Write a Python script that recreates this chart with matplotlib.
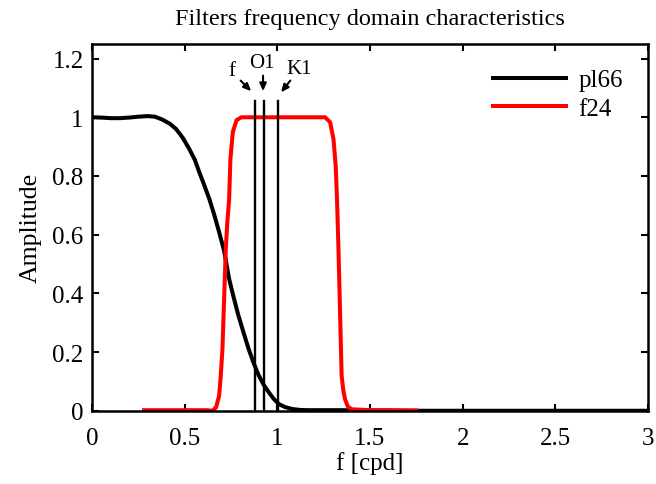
import matplotlib
matplotlib.use("Agg")
import matplotlib.pyplot as plt

plt.rcParams['font.family'] = ['Liberation Serif', 'DejaVu Serif']
plt.rcParams['mathtext.fontset'] = 'stix'

# pl66 low-pass response
pl66_x = [0.0, 0.05, 0.10, 0.15, 0.20, 0.25, 0.30, 0.34, 0.38, 0.42, 0.454, 0.49, 0.525,
          0.555, 0.579, 0.605, 0.633, 0.66, 0.686, 0.713, 0.74, 0.765, 0.79, 0.818, 0.845,
          0.872, 0.90, 0.927, 0.954, 0.98, 1.008, 1.04, 1.08, 1.12, 1.16, 1.25, 1.35, 1.5,
          1.7, 2.0, 2.5, 3.0]
pl66_y = [1.0, 0.999, 0.997, 0.997, 0.999, 1.002, 1.004, 1.002, 0.992, 0.978, 0.96, 0.93, 0.892,
          0.855, 0.813, 0.77, 0.722, 0.667, 0.609, 0.545, 0.449, 0.385, 0.325, 0.266, 0.211,
          0.163, 0.12, 0.088, 0.063, 0.041, 0.023, 0.013, 0.006, 0.003, 0.002, 0.002, 0.002, 0.001,
          0.0, 0.0, 0.0, 0.0]

# f24 band-pass response
f24_x = [0.27, 0.40, 0.55, 0.62, 0.65, 0.67, 0.686, 0.695, 0.704, 0.713, 0.722, 0.73, 0.74,
         0.747, 0.76, 0.78, 0.806, 0.9, 1.0, 1.1, 1.2, 1.258, 1.285, 1.303, 1.315, 1.322,
         1.33, 1.339, 1.347, 1.356, 1.365, 1.38, 1.40, 1.5, 1.6, 1.76]
f24_y = [0.002, 0.002, 0.002, 0.002, 0.0, 0.012, 0.051, 0.12, 0.211, 0.381, 0.551, 0.64, 0.72,
         0.858, 0.95, 0.99, 1.0, 1.0, 1.0, 1.0, 1.0, 1.0, 0.983, 0.926, 0.835, 0.722,
         0.551, 0.324, 0.12, 0.07, 0.04, 0.015, 0.005, 0.002, 0.002, 0.001]

# Tidal constituent frequencies [cpd]
const_names = ['f', 'O1', 'K1']
const_freq = [0.8781, 0.9295, 1.0027]

fig = plt.figure(figsize=(6.56, 4.85), dpi=100)
ax = fig.add_axes([0.1402, 0.151, 0.8476, 0.7564])

ax.plot(pl66_x, pl66_y, color='black', lw=2.9, label='pl66', solid_capstyle='butt')
ax.plot(f24_x, f24_y, color='red', lw=2.9, label='f24', solid_capstyle='butt')

for fr in const_freq:
    ax.plot([fr, fr], [0, 1.057], color='black', lw=1.7)

label_pos = [(0.757, 1.159), (0.918, 1.187), (1.115, 1.165)]
arrow_tail = [(0.802, 1.125), (0.923, 1.142), (1.070, 1.125)]
arrow_head = [(0.859, 1.089), (0.923, 1.089), (1.020, 1.085)]
for name, lp, t, h in zip(const_names, label_pos, arrow_tail, arrow_head):
    ax.text(lp[0], lp[1], name, fontsize=15, ha='center', va='center')
    ax.annotate('', xy=h, xytext=t,
                arrowprops=dict(arrowstyle='-|>,head_length=0.45,head_width=0.2',
                                color='black', lw=1.5, shrinkA=0, shrinkB=0))

ax.set_xlim(0, 3)
ax.set_ylim(0, 1.25)
ax.set_xticks([0, 0.5, 1, 1.5, 2, 2.5, 3])
ax.set_xticklabels(['0', '0.5', '1', '1.5', '2', '2.5', '3'])
ax.set_yticks([0, 0.2, 0.4, 0.6, 0.8, 1.0, 1.2])
ax.set_yticklabels(['0', '0.2', '0.4', '0.6', '0.8', '1', '1.2'])
ax.tick_params(direction='in', top=True, right=True, length=5, width=1.5,
               labelsize=18)
ax.tick_params(axis='x', pad=12)
ax.tick_params(axis='y', pad=6)
for s in ax.spines.values():
    s.set_linewidth(1.8)

ax.set_xlabel('f [cpd]', fontsize=18, labelpad=1)
ax.set_ylabel('Amplitude', fontsize=18.5, labelpad=8)
ax.set_title('Filters frequency domain characteristics', fontsize=17.5, pad=14)

ax.legend(loc='upper right', frameon=False, fontsize=18, handlelength=3.1,
          handletextpad=0.4, labelspacing=0.25, borderaxespad=0.6)

fig.savefig('out.png', dpi=100)
